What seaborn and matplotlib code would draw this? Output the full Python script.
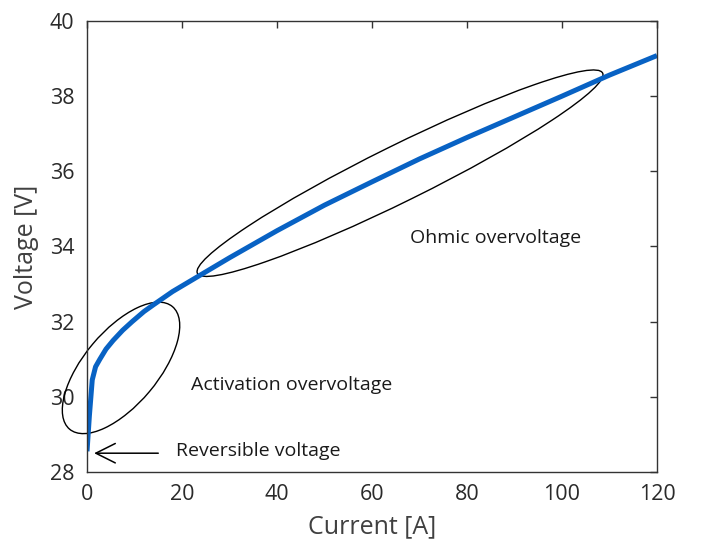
import matplotlib
matplotlib.use("Agg")
import matplotlib.pyplot as plt
import matplotlib.transforms as mtransforms
from matplotlib.patches import Ellipse
import seaborn as sns
import pandas as pd

# polarization curve
current = [0, 0.5, 1.1, 1.8, 2.7, 4, 5.5, 7.5, 9.5, 12, 14, 18, 22, 26, 30, 40, 50, 60,
           70, 80, 90, 100, 110, 120]
voltage = [28.55, 29.5, 30.45, 30.8, 31.0, 31.27, 31.5, 31.77, 32.0, 32.27, 32.45, 32.8,
           33.1, 33.4, 33.7, 34.42, 35.1, 35.72, 36.33, 36.9, 37.45, 38.0, 38.56, 39.08]

x_ticks = [0, 20, 40, 60, 80, 100, 120]
y_ticks = [28, 30, 32, 34, 36, 38, 40]

df = pd.DataFrame({"Current [A]": current, "Voltage [V]": voltage})

sns.set_style("white")
plt.rcParams['font.family'] = ['Open Sans', 'DejaVu Sans']

fig = plt.figure(figsize=(7.04, 5.48), dpi=100)
ax = fig.add_axes([0.1236, 0.1387, 0.8096, 0.823])

sns.lineplot(data=df, x="Current [A]", y="Voltage [V]", ax=ax,
             color="#0862c4", linewidth=3.6, solid_capstyle="butt")

ax.set_xlim(0, 120)
ax.set_ylim(28, 40)
ax.set_xticks(x_ticks)
ax.set_yticks(y_ticks)
ax.tick_params(direction="in", length=5, width=1, top=True, right=True,
               labelsize=15.5, colors="#333333", labelcolor="#2a2a2a", pad=9)
for sp in ax.spines.values():
    sp.set_color("#333333")
    sp.set_linewidth(1.0)
ax.set_xlabel("Current [A]", fontsize=18, color="#404040", labelpad=6)
ax.set_ylabel("Voltage [V]", fontsize=18, color="#404040", labelpad=8)


def ellipse(cx, cy, w_px, h_px, angle):
    # size in screen pixels, centre in data units
    trans = fig.dpi_scale_trans + mtransforms.ScaledTranslation(cx, cy, ax.transData)
    e = Ellipse((0, 0), w_px / 100, h_px / 100, angle=angle, fill=False,
                edgecolor="black", linewidth=1.0, transform=trans, clip_on=False)
    ax.add_patch(e)


ellipse(7.16, 30.77, 160, 74, 50)
ellipse(65.9, 35.95, 452, 56, 26.3)

ax.text(68, 34.22, "Ohmic overvoltage", fontsize=14, va="center", color="#1a1a1a")
ax.text(21.9, 30.31, "Activation overvoltage", fontsize=14, va="center", color="#1a1a1a")
ax.text(18.7, 28.55, "Reversible voltage", fontsize=14, va="center", color="#1a1a1a")
ax.annotate("", xy=(1.5, 28.5), xytext=(15, 28.5),
            arrowprops=dict(arrowstyle="->, head_length=0.7, head_width=0.35",
                            color="black", lw=1.1, mutation_scale=20,
                            shrinkA=0, shrinkB=0))

fig.savefig("out.png", dpi=100)
